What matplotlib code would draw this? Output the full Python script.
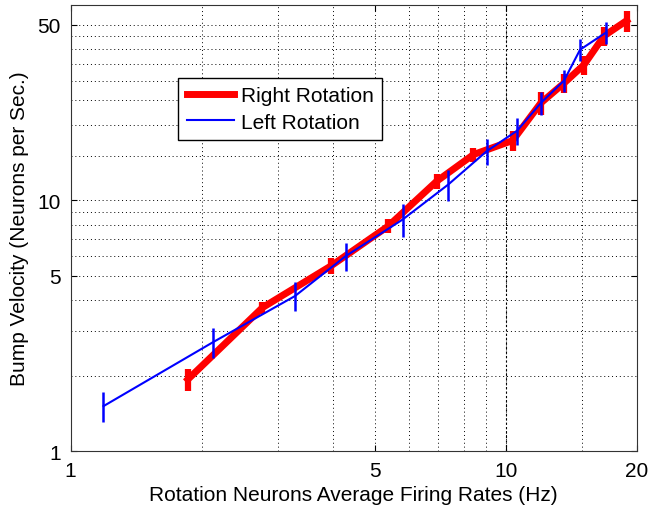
import matplotlib
matplotlib.use('Agg')
import matplotlib.pyplot as plt
from matplotlib.lines import Line2D
from matplotlib.ticker import FixedLocator, NullFormatter

plt.rcParams['font.family'] = ['Liberation Sans', 'DejaVu Sans']

# Right rotation (red)
right_x = [1.86, 2.76, 3.96, 5.37, 6.94, 8.43, 10.38, 12.04, 13.62, 15.14, 16.83, 18.97]
right_y = [1.93, 3.73, 5.46, 7.88, 11.9, 15.2, 17.3, 24.4, 29.3, 34.7, 45.2, 52.0]
right_err = [0.2, 0.2, 0.4, 0.5, 0.8, 1.0, 1.6, 2.5, 2.5, 3.0, 4.0, 5.0]

# Left rotation (blue)
left_x = [1.19, 2.12, 3.28, 4.29, 5.80, 7.38, 9.04, 10.63, 12.04, 13.62, 14.82, 17.0]
left_y = [1.51, 2.71, 4.15, 5.99, 8.38, 11.55, 15.67, 18.94, 24.4, 30.0, 39.8, 46.6]
left_err = [0.21, 0.37, 0.55, 0.78, 1.27, 1.6, 1.8, 2.3, 2.6, 3.0, 4.0, 4.7]

x_ticks = [1, 5, 10, 20]
y_ticks = [1, 5, 10, 50]
x_minor = [2, 3, 4, 6, 7, 8, 9, 15]
y_minor = [2, 3, 4, 6, 7, 8, 9, 15, 20, 25, 30, 35, 40, 45]

fig = plt.figure(figsize=(6.48, 5.06), dpi=100)
ax = fig.add_axes([0.109, 0.1067, 0.8735, 0.8814])

ax.set_xscale('log')
ax.set_yscale('log')
ax.set_xlim(1, 20)
ax.set_ylim(1, 60)

ax.errorbar(right_x, right_y, yerr=right_err, color='#ff0000', lw=5, elinewidth=4.5,
            capsize=0, zorder=3)
ax.errorbar(left_x, left_y, yerr=left_err, color='#0000ff', lw=1.5, elinewidth=1.8,
            capsize=0, zorder=4)

ax.xaxis.set_major_locator(FixedLocator(x_ticks))
ax.yaxis.set_major_locator(FixedLocator(y_ticks))
ax.xaxis.set_minor_locator(FixedLocator(x_minor))
ax.yaxis.set_minor_locator(FixedLocator(y_minor))
ax.xaxis.set_minor_formatter(NullFormatter())
ax.yaxis.set_minor_formatter(NullFormatter())
ax.set_xticklabels([str(t) for t in x_ticks])
ax.set_yticklabels([str(t) for t in y_ticks])

ax.grid(True, which='both', color='black', ls=(0, (1, 3)), lw=0.7)
ax.axvline(10, color='black', ls=(0, (2, 2)), lw=0.8, zorder=1)

ax.tick_params(which='both', direction='in', top=True, right=True, labelsize=15, colors='black')
ax.tick_params(which='major', length=4, pad=7)
ax.tick_params(which='minor', length=0)
for s in ax.spines.values():
    s.set_color('#333333')

ax.set_xlabel('Rotation Neurons Average Firing Rates (Hz)', fontsize=15, labelpad=4)
ax.set_ylabel('Bump Velocity (Neurons per Sec.)', fontsize=15, labelpad=6)

handles = [Line2D([], [], color='#ff0000', lw=5), Line2D([], [], color='#0000ff', lw=1.5)]
leg = ax.legend(handles, ['Right Rotation', 'Left Rotation'], loc='upper left',
                bbox_to_anchor=(0.19, 0.836), fontsize=15, fancybox=False, framealpha=1,
                edgecolor='black', handlelength=2.3, borderpad=0.4, labelspacing=0.35,
                handletextpad=0.3, borderaxespad=0)
leg.get_frame().set_linewidth(1.0)

fig.savefig('out.png', dpi=100)
